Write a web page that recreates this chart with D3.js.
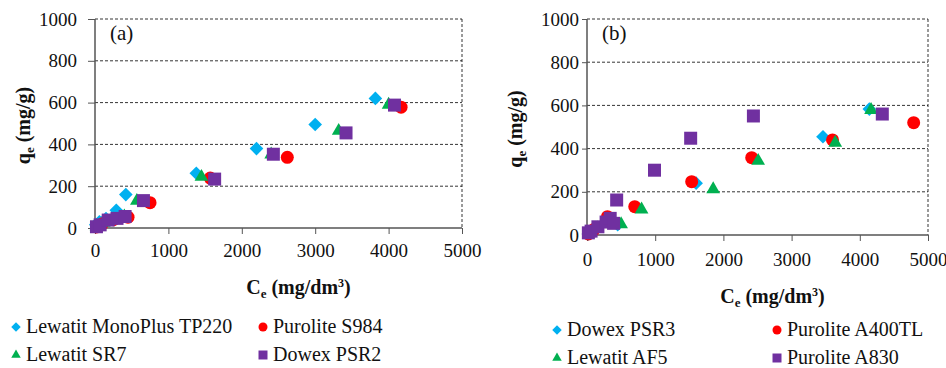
<!DOCTYPE html>
<html>
<head>
<meta charset="utf-8">
<script src="https://cdn.jsdelivr.net/npm/d3@7"></script>
<style>
  body { margin: 0; background: #fff; }
</style>
</head>
<body>
<svg id="chart" width="946" height="368"></svg>
<script>
const xTicks = [0, 1000, 2000, 3000, 4000, 5000];
const yTicks = [0, 200, 400, 600, 800, 1000];

// panel (a): [Ce, qe]
const namesA = ['Lewatit MonoPlus TP220', 'Purolite S984', 'Lewatit SR7', 'Dowex PSR2'];
const tp220 = [[10, 15], [60, 30], [150, 45], [290, 85], [420, 160], [1380, 262], [2200, 380], [3000, 495], [3820, 620]];
const s984 = [[20, 5], [100, 20], [250, 40], [450, 52], [750, 121], [1570, 239], [2620, 338], [4170, 578]];
const sr7 = [[20, 8], [120, 25], [250, 40], [400, 55], [570, 130], [1450, 245], [2400, 352], [3320, 465], [4000, 590]];
const psr2 = [[20, 6], [70, 15], [180, 38], [300, 46], [410, 55], [660, 131], [1630, 234], [2430, 353], [3420, 455], [4080, 588]];

// panel (b)
const namesB = ['Dowex PSR3', 'Purolite A400TL', 'Lewatit AF5', 'Purolite A830'];
const psr3 = [[20, 5], [120, 30], [300, 70], [450, 48], [1600, 240], [3460, 455], [4140, 583]];
const a400tl = [[20, 5], [100, 25], [300, 85], [700, 131], [1535, 247], [2415, 358], [3600, 440], [4790, 520]];
const af5 = [[30, 8], [150, 30], [500, 50], [800, 118], [1850, 212], [2510, 343], [3640, 427], [4165, 579]];
const a830 = [[20, 10], [60, 18], [160, 38], [280, 60], [340, 77], [390, 54], [435, 162], [990, 300], [1520, 448], [2440, 551], [4330, 560]];

const colors = ['#00b0f0', '#ff0000', '#00b050', '#7030a0'];
const shapes = ['diamond', 'circle', 'triangle', 'square'];
const FONT = '"Liberation Serif"';

const svg = d3.select('#chart');

function symbolPath(shape, s) {
  if (shape === 'diamond') return d3.symbol(d3.symbolSquare, s * s * 0.55)();
  if (shape === 'circle') return d3.symbol(d3.symbolCircle, Math.PI * s * s / 4)();
  if (shape === 'triangle') return d3.symbol(d3.symbolTriangle, s * s * 0.48)();
  return d3.symbol(d3.symbolSquare, s * s)();
}

function drawMark(g, shape, color, x, y, s) {
  g.append('path')
    .attr('d', symbolPath(shape, s))
    .attr('fill', color)
    .attr('transform', `translate(${x},${y})` + (shape === 'diamond' ? ' rotate(45)' : ''));
}

function drawPanel(p) {
  const x = d3.scaleLinear().domain([0, 5000]).range([p.left, p.right]);
  const y = d3.scaleLinear().domain([0, 1000]).range([p.bottom, p.top]);
  const g = svg.append('g');

  // dashed grid + frame
  g.selectAll('.grid')
    .data(yTicks.filter(d => d > 0))
    .enter().append('line')
    .attr('x1', p.left).attr('x2', p.right)
    .attr('y1', d => y(d)).attr('y2', d => y(d))
    .attr('stroke', '#000').attr('stroke-width', 0.8)
    .attr('stroke-dasharray', '3,2');
  g.append('line')
    .attr('x1', p.right).attr('x2', p.right)
    .attr('y1', p.top).attr('y2', p.bottom)
    .attr('stroke', '#000').attr('stroke-width', 0.8)
    .attr('stroke-dasharray', '3,2');

  // axes
  const fmt = d3.format('d');
  const yAxis = g.append('g')
    .attr('transform', `translate(${p.left},0)`)
    .call(d3.axisLeft(y).tickValues(yTicks).tickFormat(fmt).tickSize(p.yTick).tickPadding(p.yPad));
  const xAxis = g.append('g')
    .attr('transform', `translate(0,${p.bottom})`)
    .call(d3.axisBottom(x).tickValues(xTicks).tickFormat(fmt).tickSize(6).tickPadding(p.xPad));
  [xAxis, yAxis].forEach(a => {
    a.select('.domain').attr('stroke', '#555').attr('stroke-width', 1.5);
    a.selectAll('.tick line').attr('stroke', '#555').attr('stroke-width', 1);
    a.selectAll('text').style('font-family', FONT)
      .style('font-size', '19px').attr('fill', '#111');
  });
  xAxis.select('.domain').attr('d', `M${p.left},0H${p.right}`);
  yAxis.select('.domain').attr('d', `M0,${p.bottom}V${p.top}`);

  // points
  p.series.forEach((data, i) => {
    data.forEach(d => drawMark(g, shapes[i], colors[i], x(d[0]), y(d[1]), 13));
  });

  // panel label
  g.append('text').attr('x', p.left + 15).attr('y', p.top + 21)
    .style('font-family', FONT).style('font-size', '21px').attr('fill', '#111').text(p.label);

  // axis titles
  const yt = g.append('text')
    .attr('transform', `translate(${p.yTitleX},${(p.top + p.bottom) / 2 + 2}) rotate(-90)`)
    .attr('text-anchor', 'middle').style('font-family', FONT)
    .style('font-weight', 'bold').style('font-size', '20px').attr('fill', '#111');
  yt.append('tspan').text('q');
  yt.append('tspan').style('font-size', '13px').attr('dy', 4).text('e');
  yt.append('tspan').attr('dy', -4).text(' (mg/g)');

  const xt = g.append('text')
    .attr('x', (p.left + p.right) / 2 + p.xTitleShift).attr('y', p.xTitleY)
    .attr('text-anchor', 'middle').style('font-family', FONT)
    .style('font-weight', 'bold').style('font-size', '20px').attr('fill', '#111');
  xt.append('tspan').text('C');
  xt.append('tspan').style('font-size', '13px').attr('dy', 4).text('e');
  xt.append('tspan').attr('dy', -4).text(' (mg/dm');
  xt.append('tspan').style('font-size', '12px').attr('dy', -7).text('3');
  xt.append('tspan').attr('dy', 7).text(')');

  // legend
  p.names.forEach((name, i) => {
    const lx = p.legendX[i % 2];
    const ly = p.legendY[Math.floor(i / 2)];
    drawMark(g, shapes[i], colors[i], lx, ly, 9);
    g.append('text').attr('x', lx + 10).attr('y', ly + 6)
      .style('font-family', FONT).style('font-size', '20px').attr('fill', '#111').text(name);
  });
}

drawPanel({
  left: 95, right: 462, top: 19, bottom: 228,
  yTick: 7, yPad: 11, xPad: 10,
  label: '(a)', yTitleX: 30, xTitleY: 294, xTitleShift: 20,
  names: namesA, series: [tp220, s984, sr7, psr2],
  legendX: [16, 263], legendY: [327, 355]
});

drawPanel({
  left: 587, right: 928, top: 19, bottom: 235,
  yTick: 5, yPad: 3, xPad: 12,
  label: '(b)', yTitleX: 522, xTitleY: 303, xTitleShift: 15,
  names: namesB, series: [psr3, a400tl, af5, a830],
  legendX: [557, 777], legendY: [330, 358]
});
</script>
</body>
</html>
